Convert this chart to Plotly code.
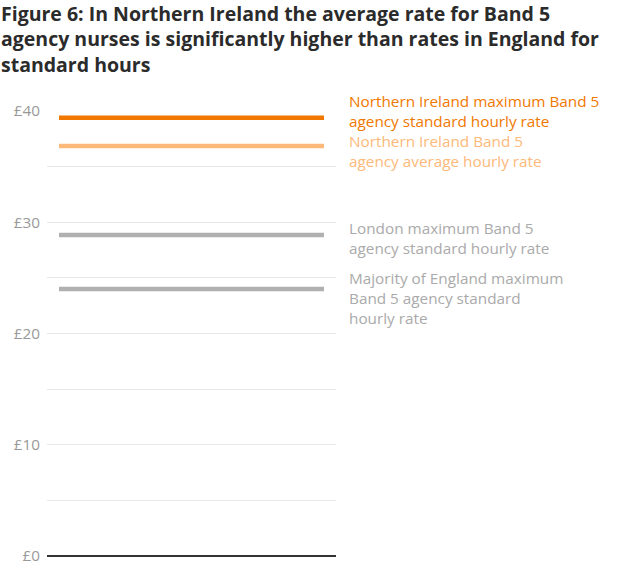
import plotly.graph_objects as go

# Data
series_names = [
    "Northern Ireland maximum Band 5<br>agency standard hourly rate",
    "Northern Ireland Band 5<br>agency average hourly rate",
    "London maximum Band 5<br>agency standard hourly rate",
    "Majority of England maximum<br>Band 5 agency standard<br>hourly rate",
]
series_values = [39.4, 36.85, 28.85, 24.0]
tick_values = [0, 5, 10, 15, 20, 25, 30, 35, 40]
tick_labels = ["£0", "", "£10", "", "£20", "", "£30", "", "£40"]
title_text = ("<b>Figure 6: In Northern Ireland the average rate for Band 5<br>"
              "agency nurses is significantly higher than rates in England for<br>"
              "standard hours</b>")

# Styles / layout
colors = ["#f07800", "#fdb97a", "#b0b0b0", "#b0b0b0"]
text_colors = ["#f07800", "#fdb97a", "#aaaaaa", "#aaaaaa"]
label_y = [39.96, 36.4, 28.58, 23.19]
FONT = "Open Sans"

fig = go.Figure()
for name, val, col in zip(series_names, series_values, colors):
    fig.add_trace(go.Scatter(
        x=[0, 1], y=[val, val], mode="lines",
        line=dict(color=col, width=4.5), hoverinfo="skip", showlegend=False,
    ))

for name, ly, tc in zip(series_names, label_y, text_colors):
    fig.add_annotation(
        text=name, xref="paper", yref="y", x=300 / 289, y=ly,
        xanchor="left", yanchor="middle", align="left", showarrow=False,
        font=dict(family=FONT, size=15.3, color=tc),
    )

fig.add_annotation(
    text=title_text, xref="paper", yref="paper",
    x=-48 / 289, y=1 + 113 / 445, xanchor="left", yanchor="top",
    align="left", showarrow=False,
    font=dict(family=FONT, size=19.5, color="#2b2b2b"),
)

fig.update_layout(
    width=620, height=566,
    margin=dict(l=47, r=284, t=111, b=10, autoexpand=False),
    plot_bgcolor="white", paper_bgcolor="white",
    xaxis=dict(range=[-0.0453, 1.0453], showgrid=False, zeroline=False,
               showticklabels=False, showline=False, fixedrange=True),
    yaxis=dict(range=[0, 40], tickvals=tick_values, ticktext=tick_labels,
               showgrid=True, gridcolor="#e8e8e8", gridwidth=1,
               zeroline=True, zerolinecolor="#333333", zerolinewidth=2,
               showline=False, ticks="", ticklabelstandoff=6,
               tickfont=dict(family=FONT, size=15.3, color="#999999")),
    font=dict(family=FONT),
)

fig.write_html("out.html")
